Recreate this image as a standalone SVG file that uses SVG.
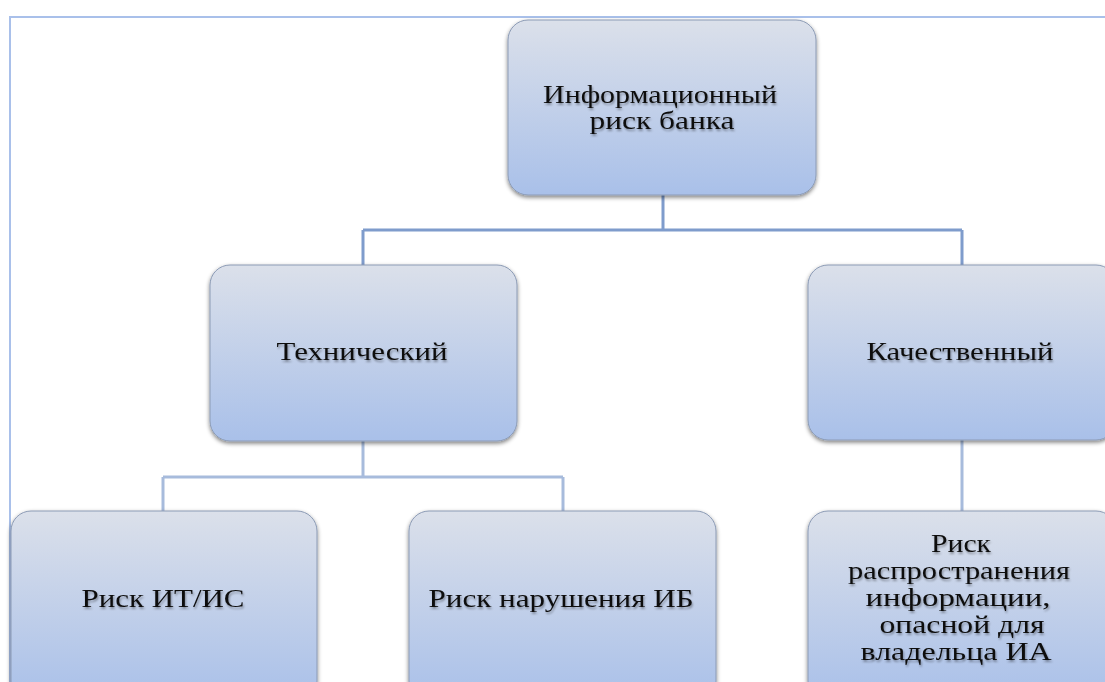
<svg xmlns="http://www.w3.org/2000/svg" width="1105" height="682" viewBox="0 0 1105 682">
<defs>
<linearGradient id="g" x1="0" y1="0" x2="0" y2="1">
<stop offset="0" stop-color="#dbe0ea"/>
<stop offset="1" stop-color="#a9c0e9"/>
</linearGradient>
<filter id="sh" x="-10%" y="-10%" width="120%" height="125%">
<feGaussianBlur in="SourceAlpha" stdDeviation="2"/>
<feOffset dx="0" dy="2" result="b"/>
<feComponentTransfer><feFuncA type="linear" slope="0.5"/></feComponentTransfer>
<feMerge><feMergeNode/><feMergeNode in="SourceGraphic"/></feMerge>
</filter>
<filter id="ts" x="-5%" y="-20%" width="110%" height="150%">
<feGaussianBlur in="SourceAlpha" stdDeviation="1"/>
<feOffset dx="1" dy="1.5"/>
<feComponentTransfer><feFuncA type="linear" slope="0.35"/></feComponentTransfer>
<feMerge><feMergeNode/><feMergeNode in="SourceGraphic"/></feMerge>
</filter>
</defs>
<style>
.box{fill:url(#g);stroke:#8c9bb5;stroke-width:1;filter:url(#sh)}
.t{font-family:"Liberation Serif","Times New Roman",serif;font-size:25px;fill:#111;text-anchor:middle;filter:url(#ts)}
.c{stroke:#7f9ccc;stroke-width:3;fill:none}
.c2{stroke:#a7bbdc;stroke-width:3;fill:none}
.fr{stroke:#a9c0ea;stroke-width:2;fill:none}
</style>
<rect width="1105" height="682" fill="#ffffff"/>
<path class="fr" d="M10 682 V17 H1105"/>
<g id="connectors">
<path class="c" d="M663 195 V230 M363 230 H962 M363 230 V265 M962 230 V265"/>
<path class="c2" d="M363 441 V477 M163 477 H563 M163 477 V511 M563 477 V511 M962 440 V511"/>
</g>
<g id="n1">
<rect class="box" x="508" y="20" width="308" height="175" rx="20"/>
<text class="t" x="660" y="103" textLength="234" lengthAdjust="spacingAndGlyphs">Информационный</text>
<text class="t" x="662" y="129" textLength="145" lengthAdjust="spacingAndGlyphs">риск банка</text>
</g>
<g id="n2">
<rect class="box" x="210" y="265" width="307" height="176" rx="20"/>
<text class="t" x="362" y="360" textLength="171" lengthAdjust="spacingAndGlyphs">Технический</text>
</g>
<g id="n3">
<rect class="box" x="808" y="265" width="308" height="175" rx="20"/>
<text class="t" x="960" y="360" textLength="187" lengthAdjust="spacingAndGlyphs">Качественный</text>
</g>
<g id="n4">
<rect class="box" x="11" y="511" width="306" height="190" rx="20"/>
<text class="t" x="163" y="607" textLength="163" lengthAdjust="spacingAndGlyphs">Риск ИТ/ИС</text>
</g>
<g id="n5">
<rect class="box" x="409" y="511" width="307" height="190" rx="20"/>
<text class="t" x="561" y="607" textLength="265" lengthAdjust="spacingAndGlyphs">Риск нарушения ИБ</text>
</g>
<g id="n6">
<rect class="box" x="808" y="511" width="308" height="190" rx="20"/>
<text class="t" x="961" y="552" textLength="60" lengthAdjust="spacingAndGlyphs">Риск</text>
<text class="t" x="959" y="579" textLength="222" lengthAdjust="spacingAndGlyphs">распространения</text>
<text class="t" x="958" y="606" textLength="185" lengthAdjust="spacingAndGlyphs">информации,</text>
<text class="t" x="962" y="633" textLength="165" lengthAdjust="spacingAndGlyphs">опасной для</text>
<text class="t" x="956" y="660" textLength="191" lengthAdjust="spacingAndGlyphs">владельца ИА</text>
</g>
</svg>
